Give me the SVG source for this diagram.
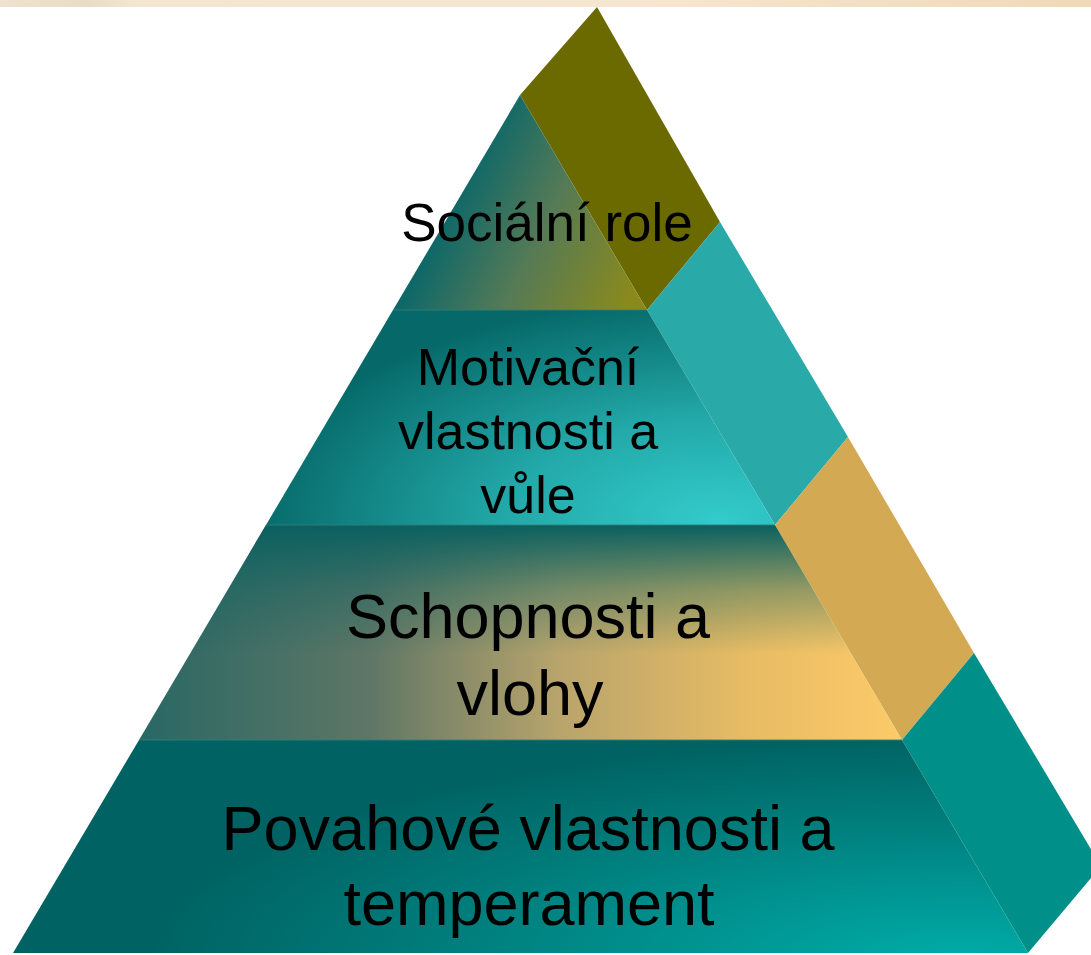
<svg xmlns="http://www.w3.org/2000/svg" width="1091" height="955" viewBox="0 0 1091 955">
  <defs>
    <linearGradient id="strip" x1="0" y1="0" x2="1" y2="0">
      <stop offset="0" stop-color="#efe3cf"/>
      <stop offset="0.08" stop-color="#e9dcc6"/>
      <stop offset="0.12" stop-color="#f3e6d1"/>
      <stop offset="0.6" stop-color="#f6e6cf"/>
      <stop offset="1" stop-color="#efd9b6"/>
    </linearGradient>
    <linearGradient id="g1" gradientUnits="userSpaceOnUse" x1="470" y1="170" x2="650" y2="260">
      <stop offset="0" stop-color="#0f6868"/>
      <stop offset="0.45" stop-color="#557a56"/>
      <stop offset="1" stop-color="#8a8a1c"/>
    </linearGradient>
    <radialGradient id="g2" gradientUnits="userSpaceOnUse" cx="0" cy="0" r="1" gradientTransform="translate(720 520) scale(470 225)">
      <stop offset="0" stop-color="#33cbcb"/>
      <stop offset="0.45" stop-color="#23a9a9"/>
      <stop offset="1" stop-color="#066868"/>
    </radialGradient>
    <linearGradient id="g3h" gradientUnits="userSpaceOnUse" x1="139" y1="0" x2="902" y2="0">
      <stop offset="0" stop-color="#286864"/>
      <stop offset="0.3" stop-color="#5e7666"/>
      <stop offset="0.55" stop-color="#b8a46c"/>
      <stop offset="0.8" stop-color="#e8bc64"/>
      <stop offset="1" stop-color="#fcca68"/>
    </linearGradient>
    <linearGradient id="g3v" gradientUnits="userSpaceOnUse" x1="0" y1="525" x2="0" y2="740">
      <stop offset="0" stop-color="#0a6060" stop-opacity="1"/>
      <stop offset="0.3" stop-color="#0a6060" stop-opacity="0.4"/>
      <stop offset="0.6" stop-color="#0a6060" stop-opacity="0"/>
    </linearGradient>
    <radialGradient id="g4" gradientUnits="userSpaceOnUse" cx="0" cy="0" r="1" gradientTransform="translate(960 960) scale(820 225)">
      <stop offset="0" stop-color="#00aca8"/>
      <stop offset="1" stop-color="#006262"/>
    </radialGradient>
  </defs>
  <style>
    .lbl { font-family: "Liberation Sans", Arial, sans-serif; fill: #000; text-anchor: middle; }
    .sm { font-size: 52px; }
    .lg { font-size: 63px; }
    .edge { stroke: #2f7f7c; stroke-width: 1.5; stroke-opacity: 0.6; }
  </style>
  <rect width="1091" height="955" fill="#ffffff"/>
  <rect id="strip" x="0" y="0" width="1091" height="7" fill="url(#strip)"/>

  <g id="side">
    <polygon points="597,7 720,222 647,310 520,95" fill="#6b6a00"/>
    <polygon points="720,222 848,437 775,525 647,310" fill="#2aa9a9"/>
    <polygon points="848,437 974,653 902,740 775,525" fill="#d4a954"/>
    <polygon points="974,653 1101,866 1028,953 902,740" fill="#008f89"/>
  </g>

  <g id="tier-social">
    <polygon points="520,95 647,310 393,310" fill="url(#g1)"/>
    <text class="lbl" style="font-size:53px" x="547" y="241">Sociální role</text>
  </g>
  <g id="tier-motivation">
    <polygon points="393,310 647,310 775,525 266,525" fill="url(#g2)"/>
    <line class="edge" x1="393" y1="310" x2="647" y2="310"/>
    <text class="lbl sm" x="528" y="385">Motivační</text>
    <text class="lbl sm" x="528" y="449">vlastnosti a</text>
    <text class="lbl sm" x="528" y="513">vůle</text>
  </g>
  <g id="tier-abilities">
    <polygon points="266,525 775,525 902,740 139,740" fill="url(#g3h)"/>
    <polygon points="266,525 775,525 902,740 139,740" fill="url(#g3v)"/>
    <line class="edge" x1="266" y1="525" x2="775" y2="525"/>
    <text class="lbl lg" x="528" y="638">Schopnosti a</text>
    <text class="lbl lg" x="530" y="715">vlohy</text>
  </g>
  <g id="tier-character">
    <polygon points="139,740 902,740 1028,953 13,953" fill="url(#g4)"/>
    <line class="edge" x1="139" y1="740" x2="902" y2="740"/>
    <text class="lbl lg" x="528" y="850">Povahové vlastnosti a</text>
    <text class="lbl lg" x="529" y="925">temperament</text>
  </g>
</svg>
